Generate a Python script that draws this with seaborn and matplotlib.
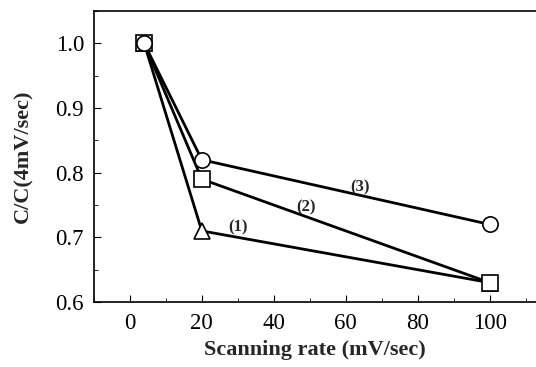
import pandas as pd
import seaborn as sns
import matplotlib.pyplot as plt
from matplotlib.ticker import MultipleLocator

rate = [4, 20, 100]
curve1 = [1.0, 0.71, 0.63]
curve2 = [1.0, 0.79, 0.63]
curve3 = [1.0, 0.82, 0.72]
names = ["(1)", "(2)", "(3)"]
label_pos = [(30, 0.716), (49, 0.746), (64, 0.777)]

df = pd.DataFrame({
    "rate": rate * 3,
    "ratio": curve1 + curve2 + curve3,
    "curve": [n for n in names for _ in rate],
})

sns.set_style("ticks")
plt.rcParams["font.family"] = ["Liberation Serif", "DejaVu Serif"]

fig = plt.figure(figsize=(5.36, 3.67), dpi=100)
ax = fig.add_axes([0.175, 0.177, 0.826, 0.793])

sns.lineplot(data=df, x="rate", y="ratio", hue="curve", style="curve",
             markers={"(1)": "^", "(2)": "s", "(3)": "o"}, dashes=False,
             palette=["black"] * 3, linewidth=2, markersize=11,
             markerfacecolor="white", markeredgecolor="black",
             markeredgewidth=1.2, legend=False, ax=ax)

for n, (x, y) in zip(names, label_pos):
    ax.text(x, y, n, fontsize=12, fontweight="bold", ha="center", va="center")

ax.set_xlim(-10, 113)
ax.set_ylim(0.6, 1.05)
ax.xaxis.set_major_locator(MultipleLocator(20))
ax.xaxis.set_minor_locator(MultipleLocator(10))
ax.yaxis.set_major_locator(MultipleLocator(0.1))
ax.yaxis.set_minor_locator(MultipleLocator(0.05))
ax.yaxis.set_major_formatter(plt.FormatStrFormatter("%.1f"))
ax.tick_params(which="both", direction="in", labelsize=16.5, colors="black")
ax.tick_params(which="major", length=5)
ax.tick_params(which="minor", length=3)
ax.tick_params(axis="x", pad=8)
ax.tick_params(axis="y", pad=7)
for s in ax.spines.values():
    s.set_linewidth(1.2)
    s.set_color("black")

ax.set_xlabel("Scanning rate (mV/sec)", fontsize=16, fontweight="bold", labelpad=4)
ax.set_ylabel("C/C(4mV/sec)", fontsize=16, fontweight="bold", labelpad=16)

fig.savefig("out.png", dpi=100)
